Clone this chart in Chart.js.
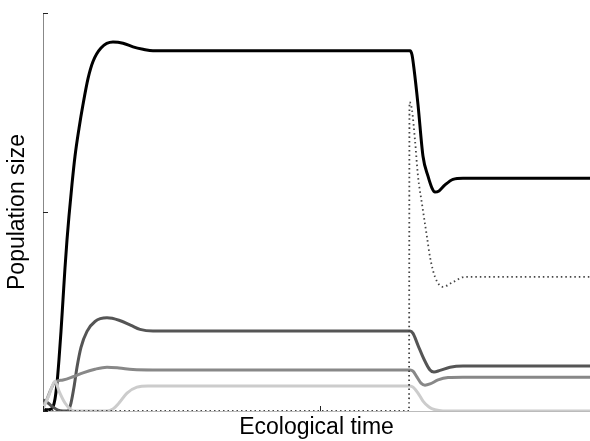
<!DOCTYPE html>
<html>
<head>
<meta charset="utf-8">
<script src="https://cdn.jsdelivr.net/npm/chart.js@4"></script>
<style>
html,body{margin:0;padding:0;background:#fff;}
#wrap{width:590px;height:441px;}
</style>
</head>
<body>
<div id="wrap"><canvas id="c" width="590" height="441"></canvas></div>
<script>
// Ecological time (arbitrary units) and population size (arbitrary units, 0-100)
const seriesBlack = [[0,0.5],[4,0.3],[8,0.5],[10,1],[12,3],[14,7],[16,13],[18,20],[20,28],[22,36],[24,43],[26,49],[29,57],[32,64],[36,71],[40,77],[45,83.5],[50,87.8],[58,91.2],[70,92.7],[80,92.4],[90,91.5],[100,90.9],[110,90.5],[367,90.5],[369,89.5],[371,86],[375,77],[380,64],[385,59],[389,56],[392,55],[396,55.3],[402,56.8],[410,58.2],[420,58.5],[547,58.5]];
const seriesDark = [[0,2.8],[5,2],[10,1],[15,0.2],[20,0],[25,0],[28,2],[31,6],[34,11],[38,16],[44,20],[52,22.5],[64,23.4],[76,22.8],[88,21.5],[97,20.5],[110,20.1],[367,20.1],[370,19.5],[375,16.5],[381,13],[387,10.3],[391,9.8],[397,10.2],[407,11],[420,11.3],[547,11.3]];
const seriesMid = [[0,1],[4,3],[8,5.5],[12,7.3],[20,7.8],[30,8.6],[40,9.6],[52,10.5],[64,11],[76,10.8],[90,10.4],[110,10.3],[367,10.3],[370,10],[374,8.5],[378,7],[382,6.5],[387,6.8],[395,7.8],[405,8.4],[420,8.5],[547,8.5]];
const seriesLight = [[0,0.5],[6,4],[12,7.5],[16,5],[22,2],[28,0.3],[32,0],[64,0],[70,0.5],[76,2],[84,4.5],[94,6],[105,6.3],[367,6.3],[370,6],[375,4.5],[380,2.5],[386,1],[392,0.3],[400,0],[547,0]];
const seriesDotted = [[0,0],[366,0],[366.5,77.6],[369,75.6],[372,68],[375,59],[379,52],[384,43.7],[387,38.7],[392,33.7],[400,31.2],[410,32.4],[422,33.7],[547,33.7]];
const xTicks = [0, 277];
const yTicks = [0, 50, 100];

const toPts = a => a.map(p => ({x:p[0], y:p[1]}));
function ds(data, color, width, dash){
  return {data: toPts(data), borderColor: color, borderWidth: width, borderDash: dash || [],
    pointRadius: 0, fill: false, cubicInterpolationMode: 'monotone', borderCapStyle: 'butt'};
}

const tickPlugin = {
  id: 'innerTicks',
  afterDraw(chart){
    const ctx = chart.ctx, xs = chart.scales.x, ys = chart.scales.y, a = chart.chartArea;
    ctx.save();
    ctx.strokeStyle = '#222';
    ctx.lineWidth = 1;
    yTicks.forEach(v => {
      const py = Math.round(ys.getPixelForValue(v)) + 0.5;
      ctx.beginPath(); ctx.moveTo(a.left, py); ctx.lineTo(a.left + 5, py); ctx.stroke();
    });
    xTicks.forEach(v => {
      const px = Math.round(xs.getPixelForValue(v)) + 0.5;
      ctx.beginPath(); ctx.moveTo(px, a.bottom); ctx.lineTo(px, a.bottom - 5); ctx.stroke();
    });
    ctx.restore();
  }
};

new Chart(document.getElementById('c'), {
  type: 'line',
  data: {
    datasets: [
      ds(seriesDotted, '#444', 1.8, [1.5, 3]),
      ds(seriesLight, '#cccccc', 3),
      ds(seriesMid, '#888888', 3),
      ds(seriesDark, '#555555', 3),
      ds(seriesBlack, '#000000', 3)
    ]
  },
  options: {
    responsive: false,
    animation: false,
    layout: {padding: {top: 13, right: 0, left: 0, bottom: 0}},
    plugins: {legend: {display: false}, tooltip: {enabled: false}},
    scales: {
      x: {
        type: 'linear', min: 0, max: 547,
        grid: {display: false},
        border: {display: true, color: '#bbbbbb', width: 1},
        ticks: {display: false},
        afterFit: s => { s.height = 30; },
        title: {display: true, text: 'Ecological time', color: '#000',
          font: {family: 'Liberation Sans, Arial, sans-serif', size: 23}, padding: {top: 0, bottom: 0}}
      },
      y: {
        min: 0, max: 100,
        grid: {display: false},
        border: {display: true, color: '#888888', width: 1},
        ticks: {display: false},
        afterFit: s => { s.width = 43; },
        title: {display: true, text: 'Population size', color: '#000',
          font: {family: 'Liberation Sans, Arial, sans-serif', size: 23}, padding: {top: 4, bottom: 0}}
      }
    }
  },
  plugins: [tickPlugin]
});
</script>
</body>
</html>
